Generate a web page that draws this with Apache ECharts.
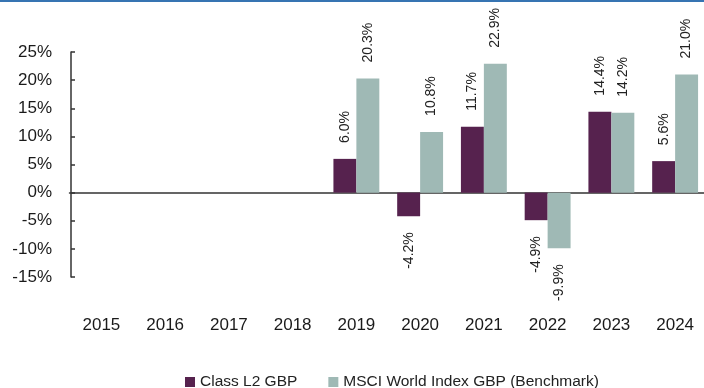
<!DOCTYPE html>
<html>
<head>
<meta charset="utf-8">
<script src="https://cdn.jsdelivr.net/npm/echarts@6/dist/echarts.min.js"></script>
<style>
  html, body { margin: 0; padding: 0; background: #fff; }
  #chart { width: 704px; height: 388px; }
</style>
</head>
<body>
<div id="chart"></div>
<script>
// Calendar-year returns (%)
var years = ['2015', '2016', '2017', '2018', '2019', '2020', '2021', '2022', '2023', '2024'];
var fundName = 'Class L2 GBP';
var benchName = 'MSCI World Index GBP (Benchmark)';
var fundReturns = [null, null, null, null, 6.0, -4.2, 11.7, -4.9, 14.4, 5.6];
var benchReturns = [null, null, null, null, 20.3, 10.8, 22.9, -9.9, 14.2, 21.0];

var FONT = '"Liberation Sans", Arial, sans-serif';

// Vertical value labels: above positive bars, below negative ones
function withLabels(values) {
  return values.map(function (v) {
    if (v === null) return '-';
    var neg = v < 0;
    return {
      value: v,
      label: {
        show: true,
        rotate: 90,
        position: neg ? 'bottom' : 'top',
        align: neg ? 'right' : 'left',
        verticalAlign: 'middle',
        distance: 16,
        fontSize: 14,
        fontFamily: FONT,
        color: '#222',
        formatter: function (p) { return Number(p.value).toFixed(1) + '%'; }
      }
    };
  });
}

var chart = echarts.init(document.getElementById('chart'), null, { renderer: 'canvas' });
chart.setOption({
  animation: false,
  backgroundColor: '#fff',
  graphic: [{
    type: 'rect',
    left: 0, top: 0,
    shape: { width: 704, height: 2 },
    style: { fill: '#3674b2' }
  }],
  grid: { left: 69.5, top: 52, width: 637.5, height: 225, containLabel: false, outerBoundsMode: 'none' },
  legend: {
    left: 180,
    top: 369,
    icon: 'rect',
    itemWidth: 10,
    itemHeight: 10,
    itemGap: 31,
    textStyle: { fontSize: 15.5, fontFamily: FONT, color: '#222' },
    data: [fundName, benchName]
  },
  xAxis: [
    {
      // zero line with centred ticks
      type: 'category',
      data: years,
      axisLine: { onZero: true, lineStyle: { color: '#333', width: 1.5 } },
      axisTick: { alignWithLabel: true, length: 4, lineStyle: { color: '#333', width: 1.5 } },
      axisLabel: { show: false },
      splitLine: { show: false }
    },
    {
      // year labels along the bottom
      type: 'category',
      data: years,
      position: 'bottom',
      axisLine: { show: false, onZero: false },
      axisTick: { show: false },
      axisLabel: { margin: 40, fontSize: 17, fontFamily: FONT, color: '#1a1a1a' },
      splitLine: { show: false }
    }
  ],
  yAxis: {
    type: 'value',
    min: -15,
    max: 25,
    interval: 5,
    offset: -1.5,
    axisLine: { show: true, lineStyle: { color: '#333', width: 1.5 } },
    axisTick: { show: true, inside: true, length: 4, lineStyle: { color: '#333', width: 1.5 } },
    axisLabel: { margin: 19, fontSize: 17, fontFamily: FONT, color: '#1a1a1a',
      formatter: function (v) { return v + '%'; } },
    splitLine: { show: false }
  },
  series: [
    {
      name: fundName,
      type: 'bar',
      xAxisIndex: 0,
      barGap: '0%',
      barCategoryGap: '28%',
      itemStyle: { color: '#56224e' },
      data: withLabels(fundReturns)
    },
    {
      name: benchName,
      type: 'bar',
      xAxisIndex: 0,
      barGap: '0%',
      barCategoryGap: '28%',
      itemStyle: { color: '#9fb9b5' },
      data: withLabels(benchReturns)
    }
  ]
});
</script>
</body>
</html>
